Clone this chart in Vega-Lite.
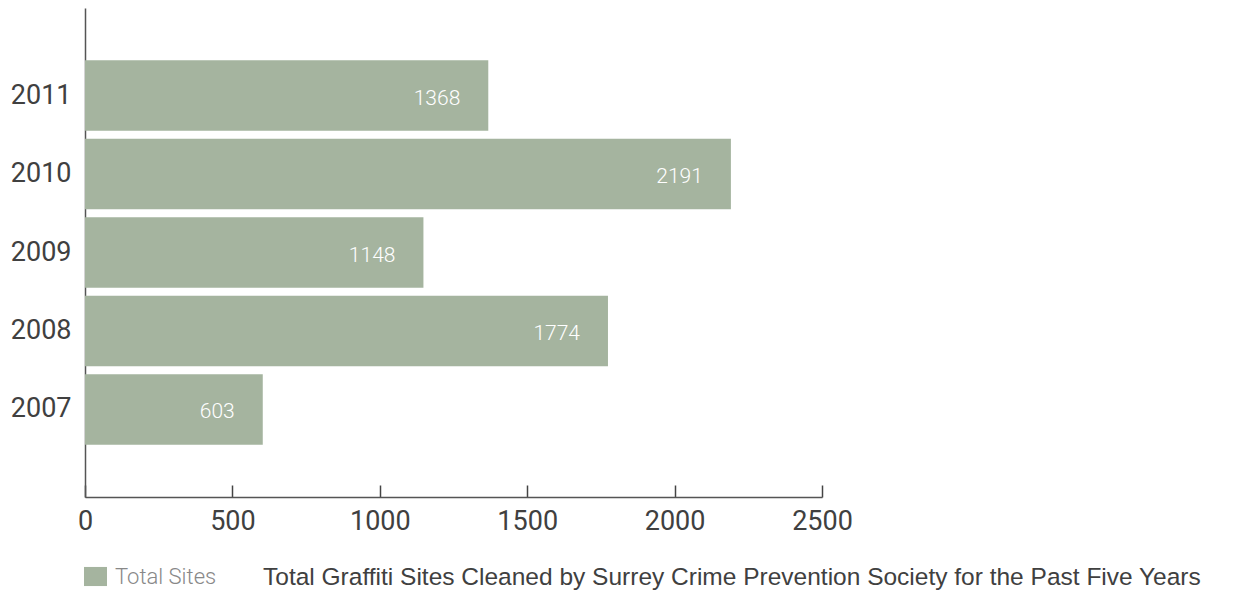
{
  "$schema": "https://vega.github.io/schema/vega-lite/v6.json",
  "width": 737,
  "height": 489,
  "autosize": {"type": "none"},
  "padding": {"left": 85, "top": 8, "right": 413, "bottom": 97},
  "background": "white",
  "title": {
    "text": "Total Graffiti Sites Cleaned by Surrey Crime Prevention Society for the Past Five Years",
    "orient": "bottom",
    "anchor": "start",
    "frame": "group",
    "dx": 178,
    "offset": -22,
    "font": "Liberation Sans",
    "fontSize": 24.5,
    "fontWeight": 400,
    "color": "#404040"
  },
  "data": {
    "values": [
      {"year": "2011", "sites": 1368, "series": "Total Sites"},
      {"year": "2010", "sites": 2191, "series": "Total Sites"},
      {"year": "2009", "sites": 1148, "series": "Total Sites"},
      {"year": "2008", "sites": 1774, "series": "Total Sites"},
      {"year": "2007", "sites": 603, "series": "Total Sites"}
    ]
  },
  "encoding": {
    "y": {
      "field": "year",
      "type": "ordinal",
      "sort": ["2011", "2010", "2009", "2008", "2007"],
      "scale": {"paddingInner": 0.1, "paddingOuter": 0.665},
      "axis": {
        "title": null,
        "ticks": false,
        "domainColor": "#555555",
        "domainWidth": 1.5,
        "labelFont": "Roboto",
        "labelFontSize": 27,
        "labelColor": "#404040",
        "labelPadding": 14
      }
    },
    "x": {
      "field": "sites",
      "type": "quantitative",
      "scale": {"domain": [0, 2500], "nice": false},
      "axis": {
        "values": [0, 500, 1000, 1500, 2000, 2500],
        "format": "d",
        "title": null,
        "grid": false,
        "domainColor": "#555555",
        "domainWidth": 1.5,
        "tickColor": "#444444",
        "tickWidth": 1.5,
        "tickSize": -12,
        "labelFont": "Roboto",
        "labelFontSize": 27,
        "labelColor": "#404040",
        "labelPadding": 23,
        "labelFlush": false
      }
    }
  },
  "layer": [
    {
      "mark": {"type": "bar"},
      "encoding": {
        "color": {
          "field": "series",
          "type": "nominal",
          "scale": {"range": ["#a5b49f"]},
          "legend": {
            "title": null,
            "orient": "none",
            "legendX": -1,
            "legendY": 557,
            "symbolType": "M-1,-0.83H1V0.83H-1Z",
            "symbolSize": 529,
            "symbolStrokeWidth": 0,
            "symbolOpacity": 1,
            "labelFont": "Roboto",
            "labelFontSize": 22,
            "labelFontWeight": 300,
            "labelColor": "#888888",
            "labelOffset": 8
          }
        }
      }
    },
    {
      "mark": {
        "type": "text",
        "align": "right",
        "baseline": "middle",
        "dx": -28,
        "dy": 3,
        "color": "white",
        "font": "Roboto",
        "fontSize": 21,
        "fontWeight": 300
      },
      "encoding": {
        "text": {"field": "sites", "type": "quantitative", "format": "d"}
      }
    }
  ],
  "config": {"view": {"stroke": null}}
}
